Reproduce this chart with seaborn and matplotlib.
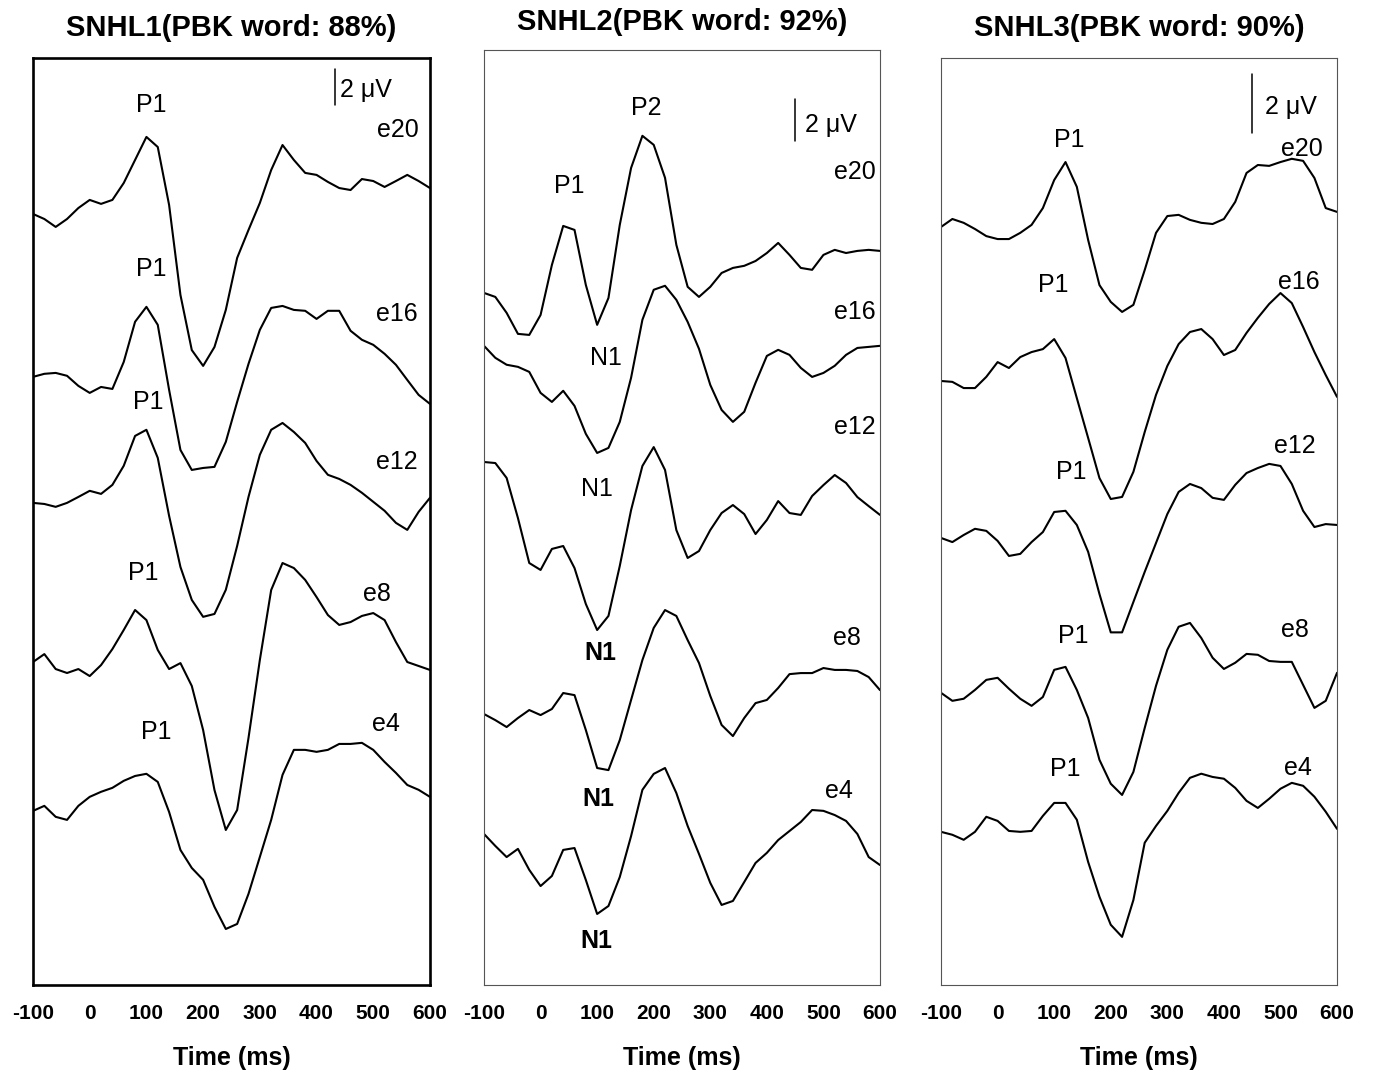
"""
Cortical auditory evoked potentials per electrode for three SNHL listeners.
"""

import matplotlib

matplotlib.use("Agg")
import matplotlib.pyplot as plt
import pandas as pd
import seaborn as sns

# ---- data (amplitudes in uV, relative to each trace's first sample) ----
TIME_MS = list(range(-100, 601, 20))
ELECTRODES = ["e20", "e16", "e12", "e8", "e4"]
SUBJECTS = ["SNHL1", "SNHL2", "SNHL3"]
PBK_WORD = [88, 92, 90]

SNHL1_E20 = [0, -0.28, -0.72, -0.28, 0.33, 0.78, 0.56, 0.78, 1.72, 3.0, 4.28, 3.72, 0.5, -4.5, -7.56, -8.44,
             -7.39, -5.33, -2.44, -0.89, 0.61, 2.44, 3.83, 3.0, 2.28, 2.17, 1.78, 1.44, 1.33, 1.94, 1.83, 1.5,
             1.83, 2.17, 1.83, 1.44]
SNHL1_E16 = [0, 0.17, 0.22, 0.06, -0.5, -0.89, -0.56, -0.67, 0.83, 3.06, 3.89, 2.89, -0.72, -4.06, -5.17, -5.06,
             -5.0, -3.61, -1.39, 0.72, 2.61, 3.83, 3.94, 3.72, 3.67, 3.22, 3.67, 3.67, 2.56, 2.06, 1.78, 1.28,
             0.67, -0.17, -1.0, -1.5]
SNHL1_E12 = [0, -0.06, -0.22, 0, 0.33, 0.67, 0.5, 1.0, 2.06, 3.72, 4.06, 2.5, -0.72, -3.56, -5.39, -6.33,
             -6.17, -4.83, -2.39, 0.33, 2.67, 4.06, 4.44, 3.94, 3.33, 2.33, 1.56, 1.33, 1.0, 0.56, 0.06, -0.44,
             -1.11, -1.5, -0.5, 0.28]
SNHL1_E8 = [0, 0.44, -0.39, -0.61, -0.39, -0.78, -0.17, 0.72, 1.78, 2.89, 2.33, 0.67, -0.39, -0.06, -1.33, -3.78,
            -7.11, -9.33, -8.22, -4.22, 0.11, 4.0, 5.5, 5.22, 4.56, 3.61, 2.61, 2.06, 2.22, 2.56, 2.72, 2.33,
            1.11, 0, -0.22, -0.44]
SNHL1_E4 = [0, 0.28, -0.33, -0.5, 0.28, 0.78, 1.06, 1.28, 1.67, 1.94, 2.06, 1.61, -0.06, -2.17, -3.17, -3.83,
            -5.33, -6.56, -6.28, -4.61, -2.56, -0.5, 2.0, 3.39, 3.39, 3.28, 3.39, 3.72, 3.72, 3.78, 3.39, 2.72,
            2.11, 1.44, 1.17, 0.78]

SNHL2_E20 = [0, -0.19, -0.95, -1.95, -2.0, -1.05, 1.33, 3.19, 3.0, 0.38, -1.52, -0.24, 3.24, 5.95, 7.48, 7.05,
             5.48, 2.29, 0.29, -0.19, 0.29, 0.95, 1.19, 1.29, 1.52, 1.9, 2.38, 1.81, 1.19, 1.1, 1.81, 2.05,
             1.9, 2.0, 2.05, 2.0]
SNHL2_E16 = [0, -0.57, -0.9, -1.0, -1.24, -2.24, -2.67, -2.14, -2.86, -4.19, -5.1, -4.86, -3.62, -1.52, 1.24, 2.67,
             2.86, 2.19, 1.14, -0.14, -1.86, -3.05, -3.62, -3.14, -1.76, -0.48, -0.19, -0.43, -1.05, -1.48, -1.29,
             -0.95, -0.43, -0.1, -0.05, 0]
SNHL2_E12 = [0, -0.05, -0.76, -2.67, -4.81, -5.14, -4.14, -4.0, -5.05, -6.76, -8.0, -7.33, -4.95, -2.29, -0.19,
             0.71, -0.38, -3.24, -4.57, -4.24, -3.24, -2.43, -2.05, -2.48, -3.43, -2.76, -1.86, -2.43, -2.52,
             -1.62, -1.1, -0.62, -1.0, -1.67, -2.1, -2.52]
SNHL2_E8 = [0, -0.29, -0.62, -0.19, 0.19, -0.05, 0.24, 1.0, 0.9, -0.76, -2.57, -2.67, -1.24, 0.67, 2.57, 4.1,
            4.95, 4.67, 3.52, 2.43, 0.86, -0.52, -1.05, -0.19, 0.52, 0.67, 1.24, 1.9, 1.95, 1.95, 2.19, 2.1,
            2.1, 2.05, 1.76, 1.14]
SNHL2_E4 = [0, -0.57, -1.1, -0.71, -1.71, -2.48, -2.0, -0.76, -0.67, -2.19, -3.81, -3.43, -2.05, -0.1, 2.1, 2.86,
            3.14, 1.95, 0.38, -0.95, -2.33, -3.38, -3.19, -2.29, -1.38, -0.9, -0.29, 0.14, 0.57, 1.14, 1.1, 0.9,
            0.62, 0, -1.1, -1.48]

SNHL3_E20 = [0, 0.27, 0.14, -0.07, -0.31, -0.41, -0.41, -0.2, 0.07, 0.64, 1.59, 2.2, 1.36, -0.44, -1.97, -2.54,
             -2.88, -2.64, -1.46, -0.2, 0.37, 0.41, 0.24, 0.14, 0.1, 0.27, 0.85, 1.83, 2.1, 2.07, 2.2, 2.31,
             2.24, 1.66, 0.64, 0.51]
SNHL3_E16 = [0, -0.03, -0.24, -0.24, 0.14, 0.64, 0.44, 0.81, 0.98, 1.08, 1.42, 0.78, -0.58, -1.93, -3.29, -4.0,
             -3.93, -3.08, -1.73, -0.47, 0.51, 1.25, 1.66, 1.76, 1.42, 0.88, 1.05, 1.63, 2.14, 2.61, 2.98, 2.64,
             1.83, 0.98, 0.2, -0.54]
SNHL3_E12 = [0, -0.14, 0.1, 0.31, 0.24, -0.1, -0.61, -0.54, -0.14, 0.2, 0.88, 0.92, 0.44, -0.47, -1.9, -3.2,
             -3.2, -2.17, -1.15, -0.17, 0.81, 1.56, 1.83, 1.69, 1.36, 1.29, 1.8, 2.2, 2.37, 2.51, 2.44, 1.83,
             0.92, 0.37, 0.47, 0.44]
SNHL3_E8 = [0, -0.27, -0.2, 0.1, 0.44, 0.51, 0.14, -0.2, -0.44, -0.14, 0.78, 0.88, 0.1, -0.85, -2.27, -3.08,
            -3.46, -2.68, -1.19, 0.24, 1.46, 2.24, 2.37, 1.86, 1.19, 0.81, 1.02, 1.32, 1.29, 1.08, 1.05, 1.05,
            0.27, -0.51, -0.27, 0.68]
SNHL3_E4 = [0, -0.1, -0.27, 0, 0.51, 0.37, 0.03, 0, 0.03, 0.54, 0.98, 0.98, 0.41, -1.02, -2.2, -3.15,
            -3.56, -2.31, -0.37, 0.2, 0.71, 1.32, 1.83, 1.97, 1.86, 1.8, 1.49, 1.05, 0.81, 1.12, 1.46, 1.66,
            1.56, 1.19, 0.68, 0.1]

TRACES = {
    "SNHL1": [SNHL1_E20, SNHL1_E16, SNHL1_E12, SNHL1_E8, SNHL1_E4],
    "SNHL2": [SNHL2_E20, SNHL2_E16, SNHL2_E12, SNHL2_E8, SNHL2_E4],
    "SNHL3": [SNHL3_E20, SNHL3_E16, SNHL3_E12, SNHL3_E8, SNHL3_E4],
}

# ---- layout: axes rect (figure fraction), y-range in uV, stacking offsets ----
LAYOUT = {
    "SNHL1": dict(rect=[0.024, 0.0863, 0.2887, 0.860], top=51.5,
                  offsets=[42.83, 33.78, 26.78, 17.94, 9.67], frame_lw=1.9, frame_color="black", pad=16),
    "SNHL2": dict(rect=[0.352, 0.0863, 0.2880, 0.8674], top=44.52,
                  offsets=[32.95, 30.43, 24.9, 12.9, 7.19], frame_lw=0.8, frame_color="#555555", pad=14),
    "SNHL3": dict(rect=[0.6844, 0.0863, 0.2880, 0.860], top=31.42,
                  offsets=[25.69, 20.47, 15.15, 9.9, 5.19], frame_lw=0.8, frame_color="#555555", pad=16),
}

# scale bar: (time, bottom, top) and its label position
SCALE_BARS = {
    "SNHL1": ((432, 48.9, 50.9), (441, 49.7)),
    "SNHL2": ((450, 40.16, 42.16), (468, 40.95)),
    "SNHL3": ((449, 28.87, 30.87), (472, 29.76)),
}

# peak / electrode labels: (text, time, uV, bold)
LABELS = {
    "SNHL1": [("P1", 108, 48.9, False), ("e20", 543, 47.5, False),
              ("P1", 109, 39.8, False), ("e16", 541, 37.3, False),
              ("P1", 104, 32.4, False), ("e12", 541, 29.06, False),
              ("P1", 95, 22.9, False), ("e8", 506, 21.7, False),
              ("P1", 118, 14.06, False), ("e4", 522, 14.5, False)],
    "SNHL2": [("P2", 186, 41.76, False), ("P1", 50, 38.05, False), ("e20", 556, 38.7, False),
              ("e16", 556, 32.05, False), ("N1", 116, 29.86, False),
              ("e12", 556, 26.57, False), ("N1", 100, 23.62, False),
              ("e8", 542, 16.52, False), ("N1", 105, 15.81, True),
              ("e4", 527, 9.24, False), ("N1", 103, 8.86, True),
              ("N1", 98, 2.1, True)],
    "SNHL3": [("P1", 126, 28.64, False), ("e20", 538, 28.34, False),
              ("P1", 98, 23.73, False), ("e16", 533, 23.83, False),
              ("P1", 131, 17.39, False), ("e12", 526, 18.27, False),
              ("P1", 133, 11.83, False), ("e8", 526, 12.03, False),
              ("P1", 120, 7.32, False), ("e4", 530, 7.36, False)],
}


def build_frame() -> pd.DataFrame:
    rows = []
    for subject in SUBJECTS:
        offsets = LAYOUT[subject]["offsets"]
        for electrode, values, offset in zip(ELECTRODES, TRACES[subject], offsets):
            for t, v in zip(TIME_MS, values):
                rows.append({"subject": subject, "electrode": electrode,
                             "time": t, "amp": v, "pos": v + offset})
    return pd.DataFrame(rows)


def draw_panel(fig, df, subject, score):
    cfg = LAYOUT[subject]
    ax = fig.add_axes(cfg["rect"])
    sub = df[df["subject"] == subject]
    sns.lineplot(data=sub, x="time", y="pos", units="electrode", estimator=None,
                 sort=False, color="black", linewidth=1.5, ax=ax)
    for line in ax.get_lines():
        line.set_solid_joinstyle("round")

    ax.set_xlim(-100, 600)
    ax.set_ylim(0, cfg["top"])
    ax.set_xticks(range(-100, 601, 100))
    ax.set_yticks([])
    ax.set_ylabel("")
    ax.tick_params(axis="x", direction="out", length=5, width=1, pad=9,
                   labelsize=15, colors="black")
    plt.setp(ax.get_xticklabels(), fontweight="bold")
    ax.set_xlabel("Time (ms)", fontsize=18, fontweight="bold", labelpad=16)
    ax.set_title(f"{subject}(PBK word: {score}%)", fontsize=21, fontweight="bold", pad=cfg["pad"])

    for spine in ax.spines.values():
        spine.set_visible(True)
        spine.set_linewidth(cfg["frame_lw"])
        spine.set_color(cfg["frame_color"])

    (bx, b0, b1), (lx, ly) = SCALE_BARS[subject]
    ax.plot([bx, bx], [b0, b1], color="black", linewidth=1.1)
    ax.text(lx, ly, "2 \u03bcV", fontsize=18, ha="left", va="center")

    for text, t, y, bold in LABELS[subject]:
        ax.text(t, y, text, fontsize=18, ha="center", va="center",
                fontweight="bold" if bold else "normal")
    return ax


def main():
    sns.set_style("white")
    plt.rcParams["font.family"] = ["Liberation Sans", "DejaVu Sans"]
    plt.rcParams["text.color"] = "black"
    plt.rcParams["axes.labelcolor"] = "black"
    plt.rcParams["axes.unicode_minus"] = False
    df = build_frame()
    fig = plt.figure(figsize=(13.75, 10.78), dpi=100)
    for subject, score in zip(SUBJECTS, PBK_WORD):
        draw_panel(fig, df, subject, score)
    fig.savefig("out.png", dpi=100, facecolor="white")


if __name__ == "__main__":
    main()
